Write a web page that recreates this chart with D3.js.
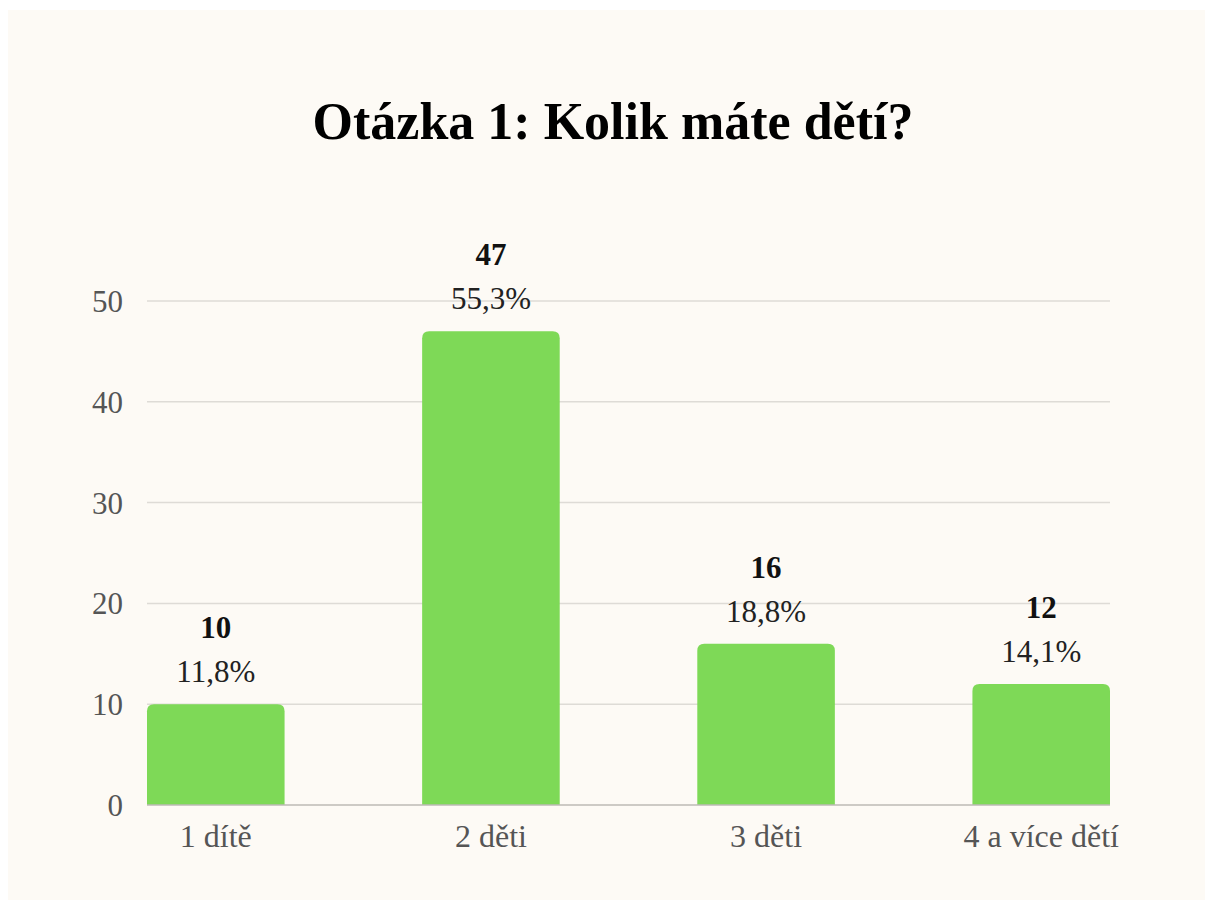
<!DOCTYPE html>
<html>
<head>
<meta charset="utf-8">
<script src="https://cdn.jsdelivr.net/npm/d3@7"></script>
<style>
  body { margin: 0; background: #ffffff; }
  text { font-family: "Liberation Serif", "Times New Roman", serif; }
</style>
</head>
<body>
<script>
// data
const categories = ["1 dítě", "2 děti", "3 děti", "4 a více dětí"];
const counts = [10, 47, 16, 12];
const percents = ["11,8%", "55,3%", "18,8%", "14,1%"];
const yTicks = [0, 10, 20, 30, 40, 50];

const W = 1213, H = 909;
const svg = d3.select("body").append("svg")
    .attr("width", W)
    .attr("height", H);

// cream card
svg.append("rect")
    .attr("x", 8).attr("y", 10)
    .attr("width", 1197).attr("height", 890)
    .attr("fill", "#fdfaf5");

svg.append("text")
    .attr("x", 613).attr("y", 139)
    .attr("text-anchor", "middle")
    .attr("font-size", 52)
    .attr("font-weight", "bold")
    .attr("fill", "#000")
    .text("Otázka 1: Kolik máte dětí?");

const x = d3.scaleBand()
    .domain(categories)
    .range([147, 1110])
    .paddingInner(0.5)
    .paddingOuter(0);

const y = d3.scaleLinear()
    .domain([0, 50])
    .range([805, 301]);

// grid
svg.append("g").selectAll("line")
    .data(yTicks.filter(d => d > 0))
    .join("line")
    .attr("x1", 147).attr("x2", 1110)
    .attr("y1", d => y(d)).attr("y2", d => y(d))
    .attr("stroke", "#dedbd6")
    .attr("stroke-width", 1.5);

// y tick labels
const yAxis = d3.axisLeft(y).tickValues(yTicks).tickSize(0).tickPadding(0);
const yG = svg.append("g").attr("transform", "translate(123,0)").call(yAxis);
yG.select(".domain").remove();
yG.selectAll("text")
    .attr("dy", "0.34em")
    .attr("font-size", 31)
    .attr("fill", "#555")
    .attr("font-family", "Liberation Serif, serif");

// bars with rounded top corners
const r = 7;
function barPath(x0, w, yTop, yBot) {
    return `M${x0},${yBot}V${yTop + r}Q${x0},${yTop} ${x0 + r},${yTop}H${x0 + w - r}Q${x0 + w},${yTop} ${x0 + w},${yTop + r}V${yBot}Z`;
}
svg.append("g").selectAll("path")
    .data(categories)
    .join("path")
    .attr("d", (c, i) => barPath(x(c), x.bandwidth(), y(counts[i]), y(0)))
    .attr("fill", "#7ed957");

// baseline
svg.append("line")
    .attr("x1", 147).attr("x2", 1110)
    .attr("y1", y(0)).attr("y2", y(0))
    .attr("stroke", "#bdbab5")
    .attr("stroke-width", 1.5);

// value labels
const lab = svg.append("g").selectAll("g")
    .data(categories)
    .join("g")
    .attr("transform", (c, i) => `translate(${x(c) + x.bandwidth() / 2},${y(counts[i])})`);
lab.append("text")
    .attr("y", -66)
    .attr("text-anchor", "middle")
    .attr("font-size", 31)
    .attr("font-weight", "bold")
    .attr("fill", "#111")
    .text((c, i) => counts[i]);
lab.append("text")
    .attr("y", -22)
    .attr("text-anchor", "middle")
    .attr("font-size", 31)
    .attr("fill", "#222")
    .text((c, i) => percents[i]);

// x labels
const xAxis = d3.axisBottom(x).tickSize(0).tickPadding(0);
const xG = svg.append("g").attr("transform", "translate(0,847)").call(xAxis);
xG.select(".domain").remove();
xG.selectAll("text")
    .attr("dy", 0)
    .attr("font-size", 32)
    .attr("fill", "#555")
    .attr("font-family", "Liberation Serif, serif");
</script>
</body>
</html>
